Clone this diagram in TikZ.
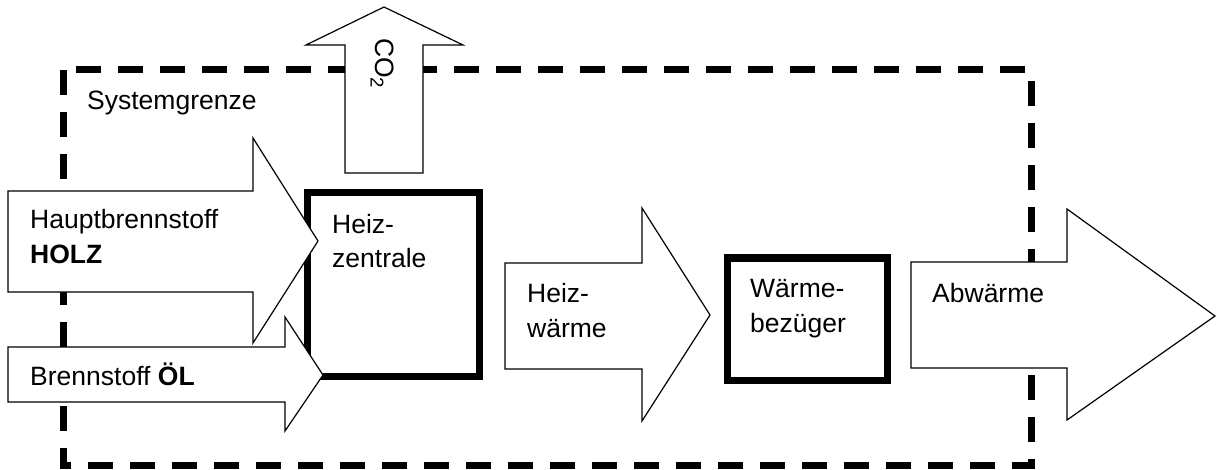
\documentclass[tikz,border=0pt]{standalone}
\usepackage{fontspec}
\setmainfont{Liberation Sans}
\usepackage{tikz}

\begin{document}
\begin{tikzpicture}[x=1pt, y=-1pt,
		grenze/.style = {line width = 7pt, dash pattern = on 25pt off 17pt},
		anlage/.style = {draw, line width = 7pt},
		strom/.style = {draw, fill = white, line width = 1.2pt, line join = miter},
		every node/.style = {inner sep = 0pt, anchor = base west, align = left,
			font = \fontsize{26.5}{35}\selectfont}]
			\useasboundingbox (0,0) rectangle (1217,470);

			% Systemgrenze
			\draw[grenze] (63,70) rectangle (1031,465);

			% Heizzentrale und Waermebezueger
			\draw[anlage] (307,193) rectangle (479,376);
			\draw[anlage] (727,258) rectangle (887,380);

			% Stroeme
			\draw[strom] (8,191) -- (253,191) -- (253,138) -- (318,241)
				-- (253,343) -- (253,292) -- (8,292) -- cycle;
			\draw[strom] (8,347) -- (285,347) -- (285,317) -- (323,375)
				-- (285,431) -- (285,402) -- (8,402) -- cycle;
			\draw[strom] (345,173) -- (345,45) -- (306,45) -- (384,7)
				-- (463,45) -- (423,45) -- (423,173) -- cycle;
			\draw[strom] (505,263) -- (642,263) -- (642,208) -- (710,315)
				-- (642,421) -- (642,369) -- (505,369) -- cycle;
			\draw[strom] (911,262) -- (1067,262) -- (1067,209) -- (1215,316)
				-- (1067,420) -- (1067,368) -- (911,368) -- cycle;

			% Beschriftung (base = letzte Zeile)
			\node (grenztext) at (87,110) {Systemgrenze};
			\node (holz) at (30,263) {Hauptbrennstoff\\\textbf{HOLZ}};
			\node (oel) at (30,385) {Brennstoff \textbf{ÖL}};
			\node (zentrale) at (332,268) {Heiz-\\zentrale};
			\node[rotate = -90] (co2) at (375,38) {CO\textsubscript{2}};
			\node (heizwaerme) at (527,337) {Heiz-\\wärme};
			\node (bezueger) at (750,332) {Wärme-\\bezüger};
			\node (abwaerme) at (932,302) {Abwärme};
		\end{tikzpicture}
\end{document}
